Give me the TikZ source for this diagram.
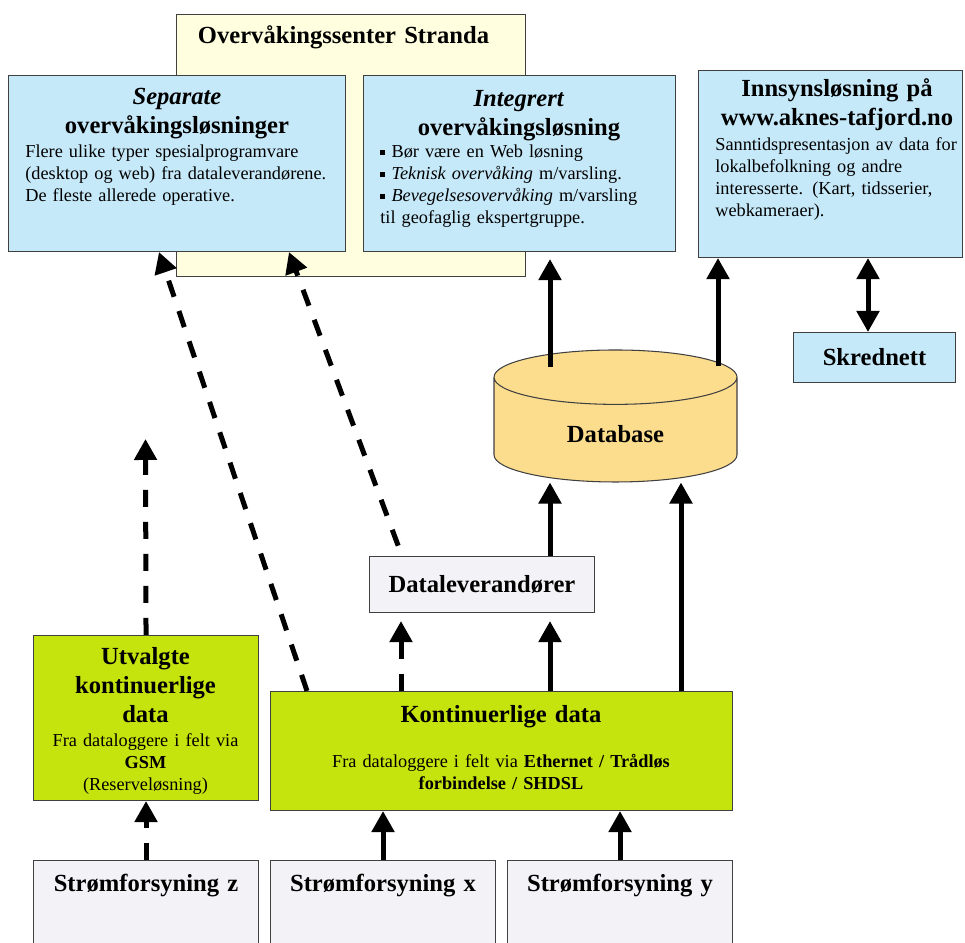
\documentclass[tikz,border=0pt]{standalone}
\usepackage{fontspec}
\setmainfont{Liberation Serif}
\usepackage{tikz}
\usetikzlibrary{arrows.meta,shapes.geometric,positioning}
\definecolor{boxblue}{HTML}{C6E9F9}
\definecolor{boxyellow}{HTML}{FFFFE0}
\definecolor{dbgold}{HTML}{FCDD8E}
\definecolor{boxgreen}{HTML}{C5E30D}
\definecolor{boxgray}{HTML}{F3F3F7}
\newcommand{\hdrfont}{\fontsize{14}{16.5}\selectfont\bfseries}
\newcommand{\txtfont}{\fontsize{10.4}{12.5}\selectfont}
\newcommand{\bulsq}{\raisebox{0.3ex}{\rule{0.28em}{0.28em}}}

\begin{document}
\begin{tikzpicture}[
  box/.style={draw=black!75, line width=0.6pt, anchor=north west},
  hdr/.style={font=\hdrfont, align=center, text width=#1, anchor=base, inner sep=0pt},
  txt/.style={font=\txtfont, align=left, text width=#1, anchor=base west, inner sep=0pt},
  arr/.style={line width=0.1cm, -{Triangle[length=0.42cm, width=0.44cm]}},
  dsh/.style={arr, dash pattern=on 0.34cm off 0.3cm}
]
  \clip (0,0) rectangle (19.3,18.86);

  % Overvaakingssenter
  \node[box, fill=boxyellow, minimum width=6.98cm, minimum height=5.24cm] (stranda) at (3.52,18.58) {};
  \node[hdr=6.5cm] (strandatxt) at (6.87,17.98) {Overvåkingssenter Stranda};

  % Separate losninger
  \node[box, fill=boxblue, minimum width=6.74cm, minimum height=3.52cm] (sep) at (0.16,17.36) {};
  \node[hdr=6.5cm] (sephead) at (3.54,16.76) {\textit{Separate}\\ overvåkingsløsninger};
  \node[txt=6.3cm] (sepbody) at (0.50,15.70)
    {Flere ulike typer spesialprogramvare\\ (desktop og web) fra dataleverandørene.\\ De fleste allerede operative.};

  % Integrert losning
  \node[box, fill=boxblue, minimum width=6.24cm, minimum height=3.52cm] (integ) at (7.26,17.36) {};
  \node[hdr=6cm] (integhead) at (10.38,16.72) {\textit{Integrert}\\ overvåkingsløsning};
  \node[txt=5.9cm] (integbody) at (7.60,15.70)
    {\bulsq{} Bør være en Web løsning\\ \bulsq{} \textit{Teknisk overvåking} m/varsling.\\
     \bulsq{} \textit{Bevegelsesovervåking} m/varsling\\ til geofaglig ekspertgruppe.};

  % Innsyn
  \node[box, fill=boxblue, minimum width=5.28cm, minimum height=3.74cm] (innsyn) at (13.96,17.46) {};
  \node[hdr=5.2cm] (innsynhead) at (16.74,16.92) {Innsynsløsning på\\ www.aknes-tafjord.no};
  \node[txt=5cm] (innsynbody) at (14.30,15.84)
    {Sanntidspresentasjon av data for\\ lokalbefolkning og andre\\ interesserte. (Kart, tidsserier,\\ webkameraer).};

  \node[box, fill=boxblue, minimum width=3.24cm, minimum height=1.0cm, font=\hdrfont] (skred) at (15.86,12.22) {Skrednett};

  % Database
  \node[cylinder, shape border rotate=90, aspect=0.5, draw=black!75, line width=0.6pt, fill=dbgold,
    minimum width=4.86cm, minimum height=2.64cm, anchor=shape center, font=\hdrfont] (db) at (12.31,10.54) {Database};

  \node[box, fill=boxgray, minimum width=4.50cm, minimum height=1.12cm, font=\hdrfont] (datalev) at (7.38,7.74) {Dataleverandører};

  % Datakilder
  \node[box, fill=boxgreen, minimum width=4.50cm, minimum height=3.30cm] (utvalgt) at (0.66,6.16) {};
  \node[hdr=4.3cm] (utvhead) at (2.91,5.56) {Utvalgte\\ kontinuerlige\\ data};
  \node[hdr=4.3cm, font=\txtfont] (utvbody) at (2.91,3.92) {Fra dataloggere i felt via\\ \textbf{GSM}\\ (Reserveløsning)};

  \node[box, fill=boxgreen, minimum width=9.24cm, minimum height=2.38cm] (kont) at (5.40,5.04) {};
  \node[hdr=9cm] (konthead) at (10.02,4.40) {Kontinuerlige data};
  \node[hdr=9cm, font=\txtfont] (kontbody) at (10.02,3.50)
    {Fra dataloggere i felt via \textbf{Ethernet / Trådløs}\\ \textbf{forbindelse / SHDSL}};

  % Stromforsyning
  \foreach \nm/\x/\lab in {stromz/0.66/z, stromx/5.40/x, stromy/10.14/y} {
    \node[box, fill=boxgray, minimum width=4.50cm, minimum height=2.2cm] (\nm) at (\x,1.66) {};
    \node[hdr=4.3cm] (\nm txt) at ([yshift=-0.64cm]\nm.north) {Strømforsyning \lab};
  }

  % Kolonner for piler
  \coordinate (cdsh) at (8.02,0);
  \coordinate (cmid) at (11.00,0);
  \coordinate (ckont) at (13.62,0);
  \coordinate (cinn) at (14.36,0);
  \coordinate (cskr) at (17.36,0);
  \coordinate (gsmend) at (2.91,10.08);

  % Piler
  \draw[dsh] (stromz.north) -- (utvalgt.south);
  \draw[arr] (stromx.north) -- (kont.south -| stromx.north);
  \draw[arr] (stromy.north) -- (kont.south -| stromy.north);
  \draw[dsh] (utvalgt.north) -- (gsmend);
  \draw[dsh] (kont.north -| 6.14,0) -- (sep.south -| 3.18,0);
  \draw[dsh, shorten <=0.22cm] (datalev.north -| 8.04,0) -- (sep.south -| 5.78,0);
  \draw[dsh, shorten >=0.16cm] (kont.north -| cdsh) -- (datalev.south -| cdsh);
  \draw[arr, shorten >=0.16cm] (kont.north -| cmid) -- (datalev.south -| cmid);
  \draw[arr] (datalev.north -| cmid) -- (db.bottom -| cmid);
  \draw[arr] (kont.north -| ckont) -- (db.bottom -| ckont);
  \draw[arr, shorten <=-0.36cm, shorten >=0.14cm] (db.top -| cmid) -- (integ.south -| cmid);
  \draw[arr, shorten <=-0.34cm] (db.top -| cinn) -- (innsyn.south -| cinn);
  \draw[arr, {Triangle[length=0.42cm, width=0.44cm]}-{Triangle[length=0.42cm, width=0.44cm]}] (innsyn.south -| cskr) -- (skred.north -| cskr);
\end{tikzpicture}
\end{document}
